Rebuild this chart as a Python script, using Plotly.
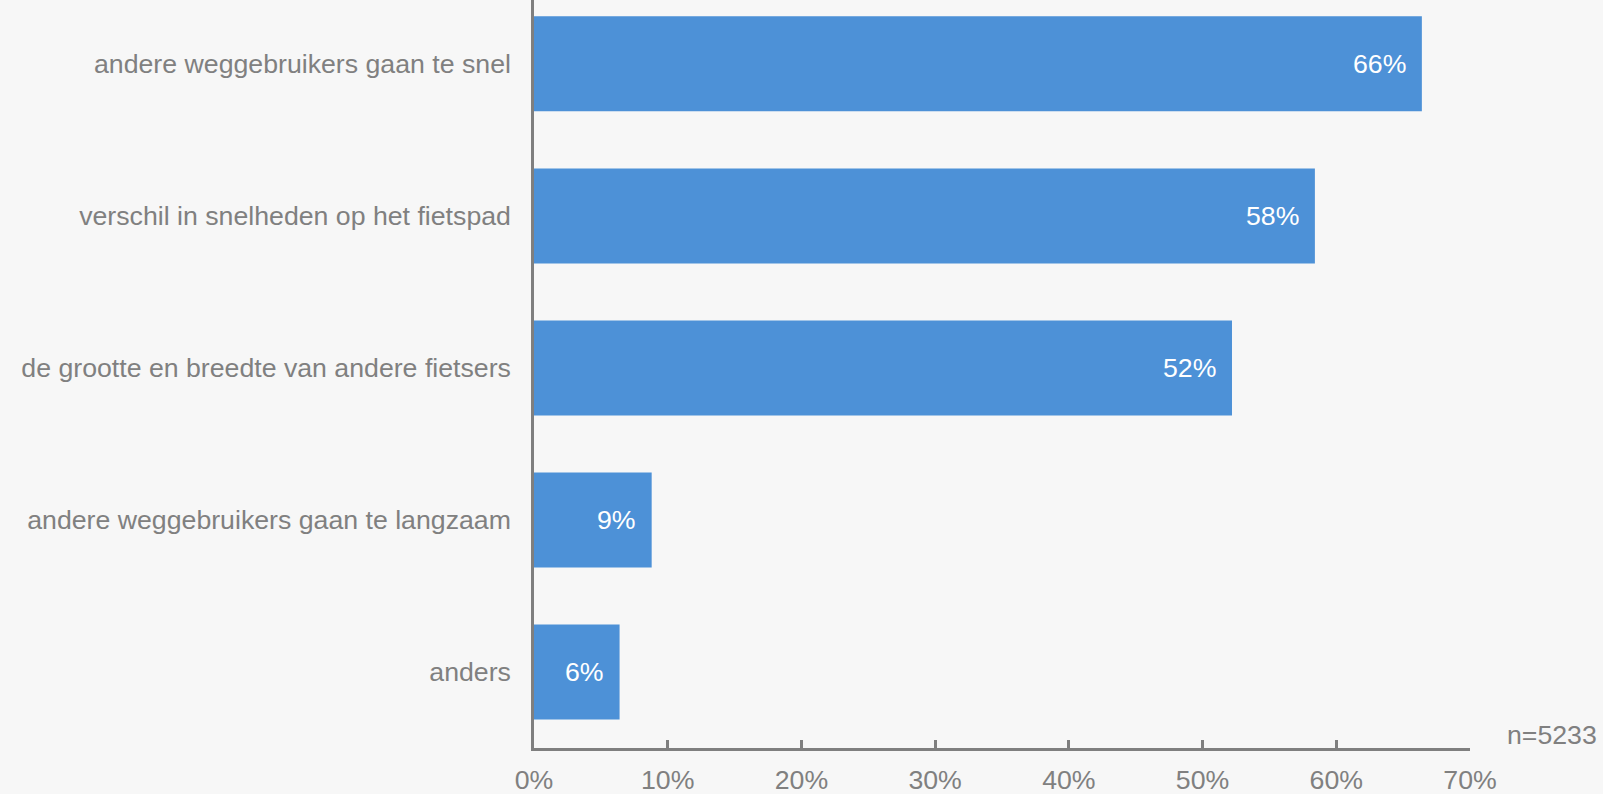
import plotly.graph_objects as go

categories = [
    "andere weggebruikers gaan te snel",
    "verschil in snelheden op het fietspad",
    "de grootte en breedte van andere fietsers",
    "andere weggebruikers gaan te langzaam",
    "anders",
]
shares = [66.4, 58.4, 52.2, 8.8, 6.4]
x_ticks = [0, 10, 20, 30, 40, 50, 60, 70]
x_tick_labels = ["0%", "10%", "20%", "30%", "40%", "50%", "60%", "70%"]
sample_note = "n=5233"

BAR = "#4d91d7"
GREY = "#808080"
AXIS = "#7f7f7f"
BG = "#f7f7f7"
FONT = "Arial, Liberation Sans, sans-serif"
FS = 26.7

fig = go.Figure(
    go.Bar(
        x=shares,
        y=categories,
        orientation="h",
        marker=dict(color=BAR, line=dict(width=0)),
        hoverinfo="skip",
    )
)

# value labels just inside the end of each bar
for cat, val in zip(categories, shares):
    fig.add_annotation(
        x=val, y=cat, xref="x", yref="y",
        text=f"{val:.0f}%", showarrow=False,
        xanchor="right", yanchor="middle", xshift=-14,
        font=dict(family=FONT, size=FS, color="white"),
    )

fig.add_annotation(
    x=1.138, y=0.018, xref="paper", yref="paper",
    text=sample_note, showarrow=False,
    xanchor="right", yanchor="middle",
    font=dict(family=FONT, size=FS, color=GREY),
)

fig.update_layout(
    width=1603, height=794,
    margin=dict(l=534, r=133, t=0, b=46),
    paper_bgcolor=BG, plot_bgcolor=BG,
    bargap=0.375,
    showlegend=False,
    font=dict(family=FONT, size=FS, color=GREY),
)
fig.update_xaxes(
    range=[0, 70], tickmode="array", tickvals=x_ticks, ticktext=x_tick_labels,
    showgrid=False, zeroline=False, automargin=False,
    showline=True, linecolor=AXIS, linewidth=2.5,
    ticks="inside", ticklen=8, tickwidth=2.5, tickcolor=AXIS,
    ticklabelstandoff=6,
    tickfont=dict(family=FONT, size=FS, color=GREY),
)
fig.update_yaxes(
    type="category", categoryorder="array", categoryarray=categories,
    range=[4.5, -0.42], automargin=False,
    showgrid=False, zeroline=False,
    showline=True, linecolor=AXIS, linewidth=2.5,
    ticks="", ticklabelstandoff=15,
    tickfont=dict(family=FONT, size=FS, color=GREY),
)

fig.write_html("out.html")
